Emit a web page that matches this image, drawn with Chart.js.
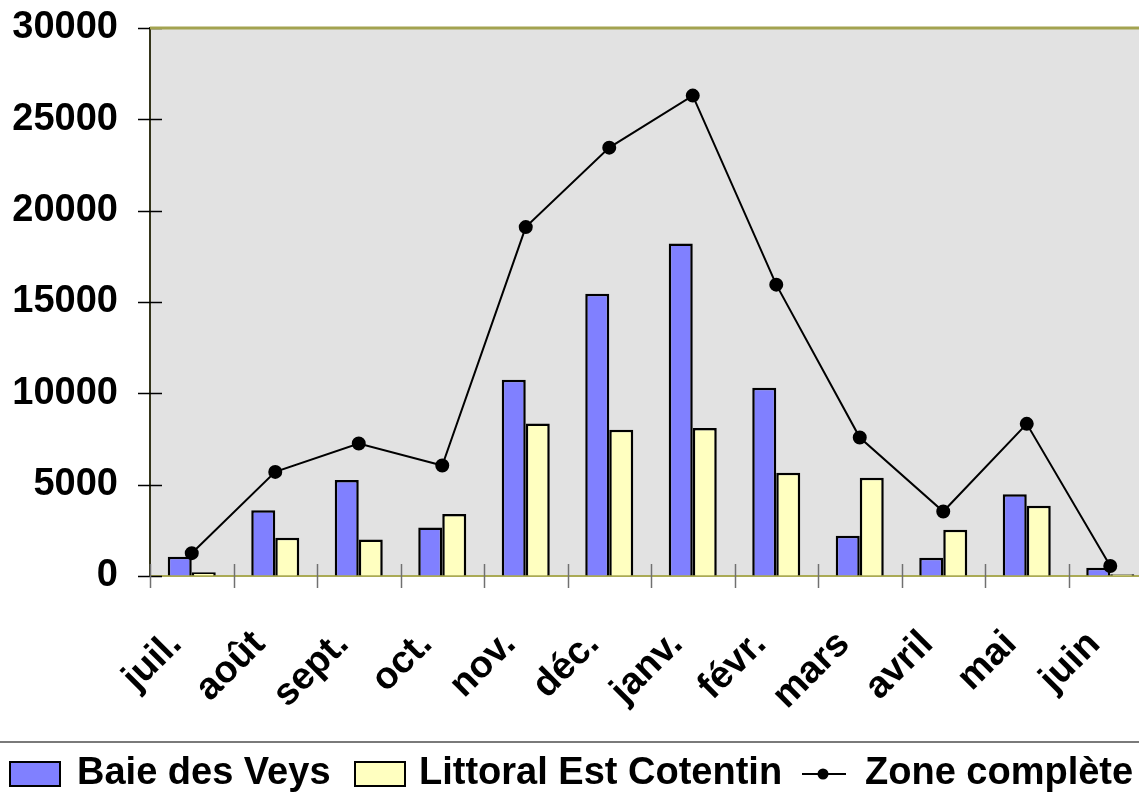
<!DOCTYPE html>
<html>
<head>
<meta charset="utf-8">
<script src="https://cdn.jsdelivr.net/npm/chart.js@4/dist/chart.umd.min.js"></script>
<style>
  html, body { margin: 0; padding: 0; background: #fff; overflow: hidden; width: 1139px; height: 793px; }
  #wrap { position: absolute; left: 0; top: 0; width: 1160px; height: 793px; }
</style>
</head>
<body>
<div id="wrap"><canvas id="c" width="1160" height="793"></canvas></div>
<script>
// Monthly counts per site, July to June
const months = ['juil.', 'août', 'sept.', 'oct.', 'nov.', 'déc.', 'janv.', 'févr.', 'mars', 'avril', 'mai', 'juin'];
const baieDesVeys = [1050, 3600, 5250, 2650, 10750, 15450, 18200, 10300, 2200, 1000, 4480, 450];
const littoralEstCotentin = [200, 2100, 2000, 3400, 8350, 8000, 8100, 5650, 5380, 2530, 3850, 100];
const zoneComplete = [1250, 5700, 7250, 6050, 19100, 23450, 26300, 15950, 7580, 3530, 8330, 550];
const yTickLabels = ['0', '5000', '10000', '15000', '20000', '25000', '30000'];

const seriesNames = ['Baie des Veys', 'Littoral Est Cotentin', 'Zone complète'];
const BLUE = '#8080ff';
const YELLOW = '#ffffc0';
const FONT = { family: '"Liberation Sans", Arial, sans-serif', size: 38, weight: 'bold' };
const FONT_CSS = 'bold 38px "Liberation Sans", Arial, sans-serif';

// Grey plot background, top frame line and tick marks that cross the axes
const plotFrame = {
  id: 'plotFrame',
  beforeDraw(chart) {
    const { ctx, chartArea: a } = chart;
    ctx.save();
    ctx.fillStyle = '#e2e2e2';
    ctx.fillRect(a.left, a.top, a.right - a.left, a.bottom - a.top);
    ctx.restore();
  },
  beforeDatasetsDraw(chart) {
    const { ctx, chartArea: a, scales } = chart;
    ctx.save();
    ctx.lineWidth = 1.5;
    // value ticks across the left axis
    ctx.strokeStyle = '#000';
    scales.y.ticks.forEach((t, i) => {
      const y = Math.round(scales.y.getPixelForTick(i)) + 0.5;
      ctx.beginPath(); ctx.moveTo(a.left - 12, y); ctx.lineTo(a.left + 12, y); ctx.stroke();
    });
    // category separators across the bottom axis
    ctx.strokeStyle = '#707070';
    const n = scales.x.ticks.length;
    const step = scales.x.getPixelForTick(1) - scales.x.getPixelForTick(0);
    for (let i = 0; i <= n; i++) {
      const px = i < n ? scales.x.getPixelForTick(i) - step / 2 : a.right;
      const x = Math.round(px) + 0.5;
      ctx.beginPath(); ctx.moveTo(x, a.bottom - 12); ctx.lineTo(x, a.bottom + 12); ctx.stroke();
    }
    // top frame
    ctx.strokeStyle = '#a3a350';
    ctx.lineWidth = 3;
    ctx.beginPath(); ctx.moveTo(a.left, a.top); ctx.lineTo(a.right, a.top); ctx.stroke();
    ctx.restore();
  }
};

// Legend row under a separator line
const bottomLegend = {
  id: 'bottomLegend',
  afterDraw(chart) {
    const { ctx } = chart;
    const cy = 774;
    ctx.save();
    ctx.strokeStyle = '#7a7a7a';
    ctx.lineWidth = 2;
    ctx.beginPath(); ctx.moveTo(0, 742); ctx.lineTo(1139, 742); ctx.stroke();

    ctx.font = FONT_CSS;
    ctx.textBaseline = 'middle';
    ctx.textAlign = 'left';

    const box = (x, fill) => {
      ctx.fillStyle = fill;
      ctx.fillRect(x, cy - 12, 50, 24);
      ctx.strokeStyle = '#000';
      ctx.lineWidth = 2;
      ctx.strokeRect(x, cy - 12, 50, 24);
    };
    box(10, BLUE);
    ctx.fillStyle = '#000';
    ctx.fillText(seriesNames[0], 77, cy);
    box(355, YELLOW);
    ctx.fillStyle = '#000';
    ctx.fillText(seriesNames[1], 419, cy);

    ctx.strokeStyle = '#000';
    ctx.lineWidth = 2;
    ctx.beginPath(); ctx.moveTo(802, cy); ctx.lineTo(846, cy); ctx.stroke();
    ctx.beginPath(); ctx.arc(823, cy, 5.5, 0, Math.PI * 2); ctx.fill();
    ctx.fillText(seriesNames[2], 865, cy);
    ctx.restore();
  }
};

new Chart(document.getElementById('c'), {
  data: {
    labels: months,
    datasets: [
      {
        type: 'line',
        label: seriesNames[2],
        data: zoneComplete,
        borderColor: '#000',
        borderWidth: 2,
        pointRadius: 6,
        pointBackgroundColor: '#000',
        pointBorderColor: '#000',
        tension: 0,
        order: 0
      },
      {
        type: 'bar',
        label: seriesNames[0],
        data: baieDesVeys,
        backgroundColor: BLUE,
        borderColor: '#000',
        borderWidth: 2.5,
        categoryPercentage: 0.575,
        barPercentage: 1,
        order: 1
      },
      {
        type: 'bar',
        label: seriesNames[1],
        data: littoralEstCotentin,
        backgroundColor: YELLOW,
        borderColor: '#000',
        borderWidth: 2.5,
        categoryPercentage: 0.575,
        barPercentage: 1,
        order: 1
      }
    ]
  },
  options: {
    responsive: false,
    animation: false,
    devicePixelRatio: 1,
    layout: { padding: { left: 0, right: 8, top: 28, bottom: 60 } },
    plugins: { legend: { display: false }, tooltip: { enabled: false } },
    scales: {
      x: {
        type: 'category',
        offset: true,
        grid: { display: true, offset: true, drawOnChartArea: false, drawTicks: true, tickLength: 46, color: 'rgba(0,0,0,0)' },
        border: { display: true, color: '#aaaa55', width: 2 },
        ticks: { font: FONT, color: '#000', minRotation: 45, maxRotation: 45, autoSkip: false, padding: 0, labelOffset: -16 },
        afterFit(s) { s.height = 157; }
      },
      y: {
        min: 0,
        max: 30000,
        grid: { display: true, drawOnChartArea: false, drawTicks: true, tickLength: 32, color: 'rgba(0,0,0,0)' },
        border: { display: true, color: '#34341a', width: 2 },
        ticks: {
          stepSize: 5000,
          font: FONT,
          color: '#000',
          padding: 0,
          callback: (v, i) => yTickLabels[i]
        },
        afterFit(s) { s.width = 150; }
      }
    }
  },
  plugins: [plotFrame, bottomLegend]
});
</script>
</body>
</html>
